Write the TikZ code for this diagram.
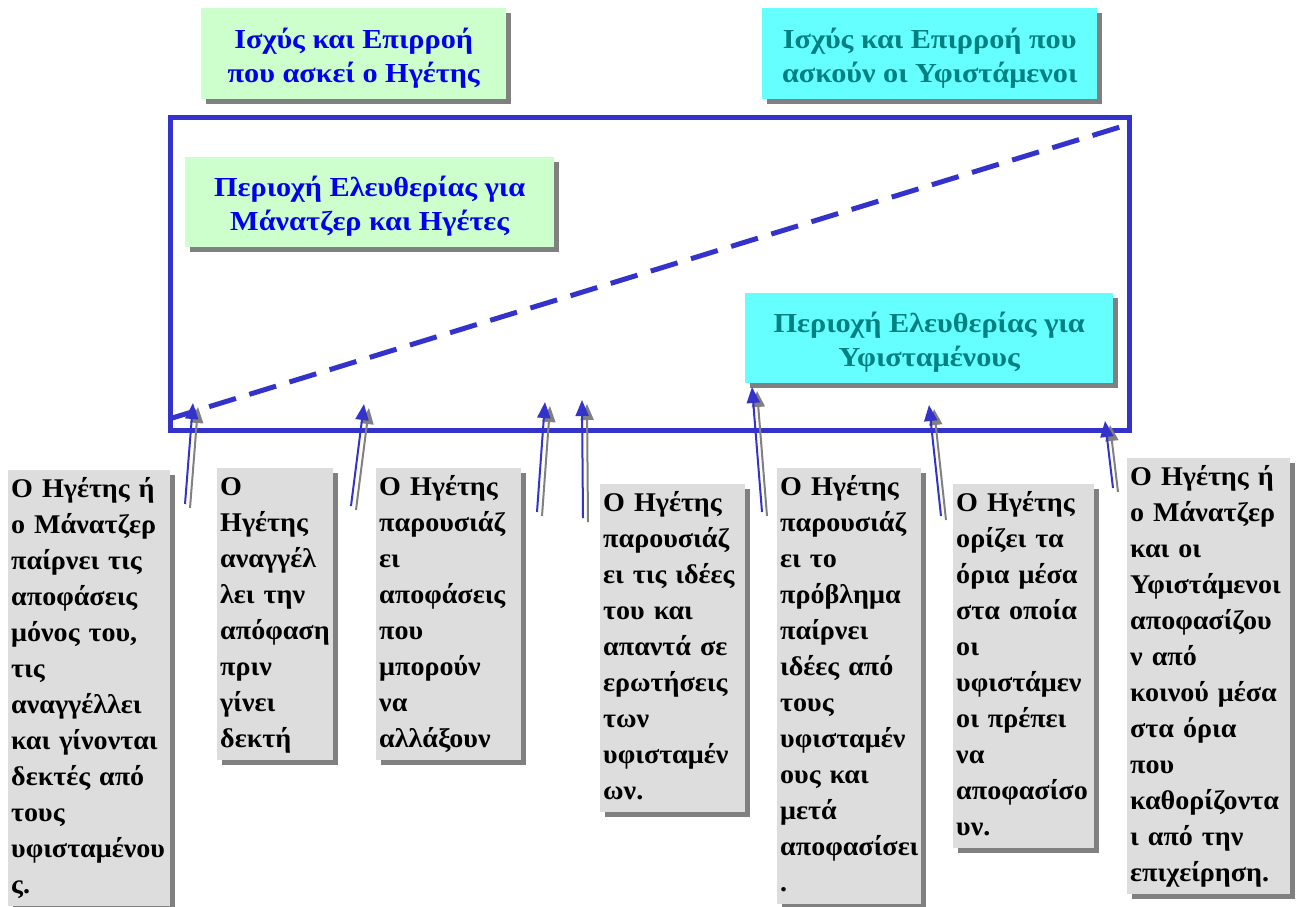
\documentclass[tikz,border=0pt]{standalone}
\usepackage{fontspec}
\setmainfont{Liberation Serif}
\newfontfamily\widefont{Liberation Serif}[FakeStretch=1.1]
\newfontfamily\notefont{Liberation Serif}[FakeStretch=1.04]
\usetikzlibrary{arrows.meta,shadows}

\definecolor{frameblue}{RGB}{51,51,204}
\definecolor{mintfill}{RGB}{204,255,204}
\definecolor{aquafill}{RGB}{102,255,255}
\definecolor{inkblue}{RGB}{0,0,238}
\definecolor{inkteal}{RGB}{0,128,128}
\definecolor{notegray}{RGB}{221,221,221}
\definecolor{shadegray}{RGB}{128,128,128}

\tikzset{
  boxshade/.style={drop shadow={shadow xshift=5pt,shadow yshift=-5pt,fill=shadegray,opacity=1}},
  titlebox/.style={rectangle,anchor=north west,inner sep=0pt,align=center,boxshade,
    font=\widefont\bfseries\fontsize{27.5}{34}\selectfont},
  greentitle/.style={titlebox,fill=mintfill,text=inkblue},
  aquatitle/.style={titlebox,fill=aquafill,text=inkteal},
  notebox/.style={rectangle,anchor=north west,fill=notegray,boxshade,align=left,
    inner xsep=3pt,inner ysep=2pt,font=\notefont\bfseries\fontsize{27}{36}\selectfont},
  pointline/.style={draw=frameblue,line width=2pt,-{Triangle[length=16pt,width=13pt]}},
  pointshade/.style={draw=shadegray,line width=2pt,-{Triangle[length=16pt,width=13pt]}},
}

% an upward pointer with its grey shadow
\newcommand\pointer[2]{%
  \draw[pointshade] ([shift={(5,4)}]#1) -- ([shift={(5,4)}]#2);
  \draw[pointline] (#1) -- (#2);}

\begin{document}
\begin{tikzpicture}[x=1pt,y=-1pt]
\useasboundingbox (0,0) rectangle (1304,906);

% headings
\node[greentitle,minimum width=305pt,minimum height=91pt] (powerlead) at (201,8)
  {\rule{0pt}{30pt}Ισχύς και Επιρροή\\που ασκεί ο Ηγέτης};
\node[aquatitle,minimum width=335pt,minimum height=91pt] (powerstaff) at (762,8)
  {\rule{0pt}{30pt}Ισχύς και Επιρροή που\\ασκούν οι Υφιστάμενοι};

% the range of decisions
\node[draw=frameblue,line width=5pt,anchor=north west,inner sep=0pt,outer sep=0pt,
      minimum width=959pt,minimum height=313pt] (frame) at (170,117) {};
\coordinate (diagA) at (169,419);
\coordinate (diagB) at (1120,127);
\draw[frameblue,line width=5pt,dash pattern=on 28pt off 14pt] (diagA) -- (diagB);

\node[greentitle,minimum width=369pt,minimum height=90pt] (freelead) at (185,157)
  {\rule{0pt}{28pt}Περιοχή Ελευθερίας για\\Μάνατζερ και Ηγέτες};
\node[aquatitle,minimum width=368pt,minimum height=90pt] (freestaff) at (745,293)
  {\rule{0pt}{28pt}Περιοχή Ελευθερίας για\\Υφισταμένους};

% the seven styles of decision making
\node[notebox,text width=156pt] (s1) at (8,470)
  {\strut Ο~Ηγέτης~ή\\ο~Μάνατζερ\\παίρνει~τις\\αποφάσεις\\μόνος~του,\\τις\\αναγγέλλει\\και~γίνονται\\δεκτές~από\\τους\\υφισταμένου\\ς.\strut};
\node[notebox,text width=110pt] (s2) at (217,468)
  {\strut Ο\\Ηγέτης\\αναγγέλ\\λει~την\\απόφαση\\πριν\\γίνει\\δεκτή\strut};
\node[notebox,text width=139pt] (s3) at (376,468)
  {\strut Ο~Ηγέτης\\παρουσιάζ\\ει\\αποφάσεις\\που\\μπορούν\\να\\αλλάξουν\strut};
\node[notebox,text width=139pt] (s4) at (600,484)
  {\strut Ο~Ηγέτης\\παρουσιάζ\\ει~τις~ιδέες\\του~και\\απαντά~σε\\ερωτήσεις\\των\\υφισταμέν\\ων.\strut};
\node[notebox,text width=138pt] (s5) at (777,468)
  {\strut Ο~Ηγέτης\\παρουσιάζ\\ει~το\\πρόβλημα\\παίρνει\\ιδέες~από\\τους\\υφισταμέν\\ους~και\\μετά\\αποφασίσει\\.\strut};
\node[notebox,text width=135pt] (s6) at (953,484)
  {\strut Ο~Ηγέτης\\ορίζει~τα\\όρια~μέσα\\στα~οποία\\οι\\υφιστάμεν\\οι~πρέπει\\να\\αποφασίσο\\υν.\strut};
\node[notebox,text width=157pt] (s7) at (1127,458)
  {\strut Ο~Ηγέτης~ή\\ο~Μάνατζερ\\και~οι\\Υφιστάμενοι\\αποφασίζου\\ν~από\\κοινού~μέσα\\στα~όρια\\που\\καθορίζοντα\\ι~από~την\\επιχείρηση.\strut};

% pointers into the range
\coordinate (t1) at (185,504);  \coordinate (h1) at (193,403);
\coordinate (t2) at (351,506);  \coordinate (h2) at (364,404);
\coordinate (t3) at (537,512);  \coordinate (h3) at (545,402);
\coordinate (t4) at (583,518);  \coordinate (h4) at (582,400);
\coordinate (t5) at (762,512);  \coordinate (h5) at (752,387);
\coordinate (t6) at (941,516);  \coordinate (h6) at (929,405);
\coordinate (t7) at (1113,488); \coordinate (h7) at (1105,421);
\pointer{t1}{h1}
\pointer{t2}{h2}
\pointer{t3}{h3}
\pointer{t4}{h4}
\pointer{t5}{h5}
\pointer{t6}{h6}
\pointer{t7}{h7}
\end{tikzpicture}
\end{document}
